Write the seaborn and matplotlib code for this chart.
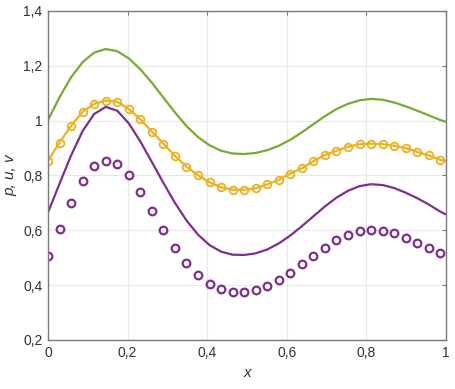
import numpy as np
import pandas as pd
import seaborn as sns
import matplotlib.pyplot as plt
from matplotlib.ticker import FuncFormatter

# sample positions (markers end just short of x = 1)
x_mark = np.linspace(0, 0.986, 35)
x_line = list(x_mark) + [1.0]

p_line = [1.002, 1.085, 1.158, 1.213, 1.248, 1.261, 1.253, 1.227, 1.187, 1.138,
          1.084, 1.030, 0.980, 0.940, 0.910, 0.890, 0.880, 0.878, 0.882, 0.892,
          0.908, 0.930, 0.957, 0.987, 1.016, 1.042, 1.061, 1.074, 1.079, 1.076,
          1.066, 1.052, 1.036, 1.019, 1.002, 0.996]
u_line = [0.665, 0.770, 0.873, 0.962, 1.024, 1.050, 1.036, 0.990, 0.924, 0.849,
          0.773, 0.700, 0.636, 0.584, 0.546, 0.522, 0.511, 0.510, 0.516, 0.530,
          0.552, 0.581, 0.615, 0.651, 0.687, 0.719, 0.744, 0.761, 0.768, 0.765,
          0.754, 0.737, 0.717, 0.694, 0.668, 0.658]
u_mark = [0.853, 0.920, 0.981, 1.032, 1.061, 1.073, 1.069, 1.042, 1.005, 0.960,
          0.916, 0.871, 0.832, 0.801, 0.775, 0.757, 0.748, 0.748, 0.753, 0.768,
          0.784, 0.807, 0.826, 0.852, 0.875, 0.890, 0.905, 0.914, 0.916, 0.914,
          0.908, 0.900, 0.886, 0.873, 0.857]
v_mark = [0.506, 0.605, 0.701, 0.780, 0.835, 0.854, 0.842, 0.801, 0.740, 0.669,
          0.600, 0.534, 0.482, 0.437, 0.405, 0.387, 0.376, 0.375, 0.382, 0.398,
          0.418, 0.445, 0.476, 0.506, 0.535, 0.563, 0.583, 0.596, 0.601, 0.597,
          0.589, 0.573, 0.555, 0.534, 0.516]
u_end = 0.852  # yellow curve value at x = 1

green = '#77AC30'
yellow = '#EDB120'
purple = '#7E2F8E'

sns.set_style('whitegrid')
plt.rcParams['font.family'] = ['Liberation Sans', 'DejaVu Sans']

fig = plt.figure(figsize=(4.55, 3.89), dpi=100)
ax = fig.add_axes([0.1055, 0.126, 0.8745, 0.846])

lines = pd.DataFrame({'x': x_line, 'p': p_line, 'u': u_line, 'uy': u_mark + [u_end]})

sns.lineplot(data=lines, x='x', y='p', color=green, linewidth=1.6, ax=ax)
sns.lineplot(data=lines, x='x', y='uy', color=yellow, linewidth=1.6, ax=ax)
ax.plot(x_mark, u_mark, 'o', ms=5.5, mfc='none', mec=yellow, mew=1.3)
sns.lineplot(data=lines, x='x', y='u', color=purple, linewidth=1.6, ax=ax)
ax.plot(x_mark, v_mark, 'o', ms=5.5, mfc='none', mec=purple, mew=1.6)

ax.set_xlim(0, 1)
ax.set_ylim(0.2, 1.4)
ax.set_xticks([0, 0.2, 0.4, 0.6, 0.8, 1])
ax.set_yticks([0.2, 0.4, 0.6, 0.8, 1.0, 1.2, 1.4])
fmt = FuncFormatter(lambda v, pos: f'{v:g}'.replace('.', ','))
ax.xaxis.set_major_formatter(fmt)
ax.yaxis.set_major_formatter(fmt)

ax.grid(True, color='#e8e8e8', linewidth=0.8)
for s in ax.spines.values():
    s.set_color('#7a7a7a')
    s.set_linewidth(1.0)
ax.tick_params(direction='in', length=3, width=0.8, color='#7a7a7a',
               labelsize=10, labelcolor='#333333', top=True, right=True,
               labeltop=False, labelright=False, pad=4)

ax.set_xlabel('x', fontsize=11, style='italic', color='#333333', labelpad=5)
ax.set_ylabel('p, u, v', fontsize=11, style='italic', color='#333333', labelpad=4)

plt.savefig('out.png', dpi=100)
